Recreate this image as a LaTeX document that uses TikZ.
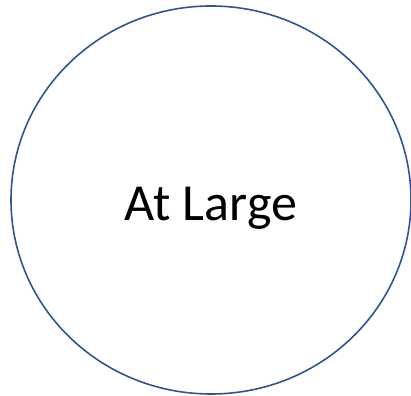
\documentclass[tikz,border=0pt]{standalone}
\usepackage{fontspec}
\setmainfont{Carlito}
\usetikzlibrary{shapes.geometric}
\definecolor{ringblue}{HTML}{2F5597}

\begin{document}
\begin{tikzpicture}[
  x=1pt, y=1pt,
  ring/.style={draw=ringblue, ellipse, line width=1.6pt,
    minimum width=400pt, minimum height=388pt, inner sep=0pt},
  label/.style={font=\fontsize{52}{56}\selectfont}
]
  \useasboundingbox (0,0) rectangle (411,395);
  % Ellipse with title
  \node[ring] (large) at (211,195) {};
  \node[label] (title) at ([yshift=-8pt]large.center) {At Large};
\end{tikzpicture}
\end{document}
